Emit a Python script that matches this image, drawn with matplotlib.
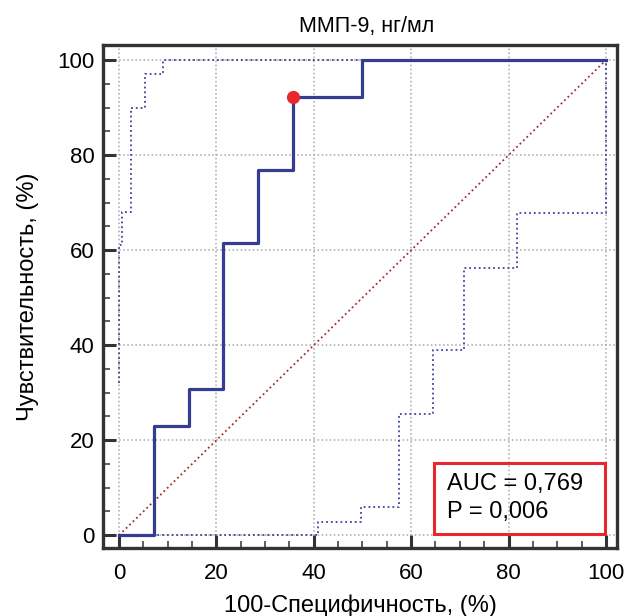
import matplotlib
matplotlib.use("Agg")
import matplotlib.pyplot as plt
from matplotlib.ticker import MultipleLocator
from matplotlib.patches import Rectangle

plt.rcParams['font.family'] = ['Liberation Sans', 'DejaVu Sans']

# ROC curve (step vertices, where='post')
roc_x = [0, 7.14, 14.29, 21.43, 28.57, 35.71, 50.0, 100.0]
roc_y = [0, 23.08, 30.77, 61.54, 76.92, 92.31, 100.0, 100.0]

# upper / lower confidence bounds
up_x = [0, 0, 0.5, 2.5, 5.3, 9.0, 100.0]
up_y = [32.0, 61.0, 68.0, 90.0, 97.0, 100.0, 100.0]
lo_x = [0, 40.9, 49.8, 57.5, 64.5, 70.8, 81.7, 100.0]
lo_y = [0, 2.8, 6.0, 25.5, 39.0, 56.2, 67.9, 100.0]

cut_x, cut_y = 35.71, 92.31
auc_label = "AUC = 0,769"
p_label = "P = 0,006"

fig = plt.figure(figsize=(6.29, 6.16), dpi=100)
ax = fig.add_axes([0.1638, 0.1104, 0.8172, 0.8166])

ax.grid(True, color='#a8a8a8', linestyle=':', linewidth=1.1)
ax.set_axisbelow(True)

ax.plot([0, 100], [0, 100], color='#9b3232', linestyle=':', linewidth=1.3)
ax.step(up_x, up_y, where='post', color='#3a44a0', linestyle=':', linewidth=1.3)
ax.step(lo_x, lo_y, where='post', color='#3a44a0', linestyle=':', linewidth=1.3)
ax.step(roc_x, roc_y, where='post', color='#343c94', linewidth=2.3)
ax.plot(cut_x, cut_y, 'o', color='#e8262b', markersize=8.5, zorder=5)

ax.set_xlim(-3.3, 102.3)
ax.set_ylim(-2.7, 103.2)
ax.xaxis.set_major_locator(MultipleLocator(20))
ax.yaxis.set_major_locator(MultipleLocator(20))
ax.xaxis.set_minor_locator(MultipleLocator(5))
ax.yaxis.set_minor_locator(MultipleLocator(5))
ax.tick_params(which='major', direction='in', length=9.5, width=2.2, color='#333333',
               labelsize=16)
ax.tick_params(which='minor', direction='in', length=5, width=1.1, color='#333333')
ax.tick_params(axis='x', which='major', pad=10.5)
ax.tick_params(axis='y', which='major', pad=6)
for s in ax.spines.values():
    s.set_linewidth(2.4)
    s.set_color('#333333')

ax.add_patch(Rectangle((64.7, 0.2), 35.1, 15.0, fill=False, edgecolor='#e8262b',
                       linewidth=2.2, zorder=6))
ax.text(67.3, 9.47, auc_label, fontsize=17, va='baseline', ha='left', zorder=7)
ax.text(67.3, 3.58, p_label, fontsize=17, va='baseline', ha='left', zorder=7)

ax.set_title("ММП-9, нг/мл", fontsize=15.5, pad=9, x=0.512)
ax.set_xlabel("100-Специфичность, (%)", fontsize=17, labelpad=8)
ax.set_ylabel("Чувствительность, (%)", fontsize=17, labelpad=13)

fig.savefig("out.png", dpi=100)
